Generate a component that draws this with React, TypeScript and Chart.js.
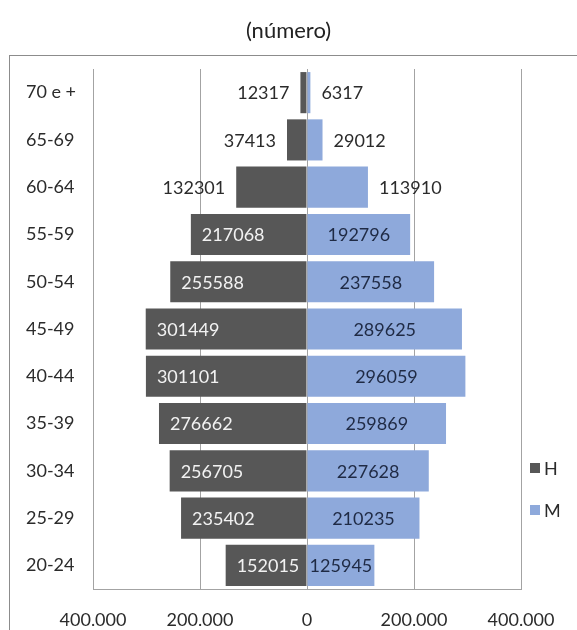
import React, { useEffect, useRef } from 'react';
import { Chart, registerables } from 'chart.js';

Chart.register(...registerables);

const categories = ['70 e +', '65-69', '60-64', '55-59', '50-54', '45-49', '40-44', '35-39', '30-34', '25-29', '20-24'];
const homens = [12317, 37413, 132301, 217068, 255588, 301449, 301101, 276662, 256705, 235402, 152015];
const mulheres = [6317, 29012, 113910, 192796, 237558, 289625, 296059, 259869, 227628, 210235, 125945];
const seriesNames = ['H', 'M'];
const seriesColors = ['#575757', '#8EA9DB'];
const xMin = -400000;
const xMax = 400000;
const xStep = 200000;
const titleText = '(número)';

const FONT = 'Lato, "Open Sans", sans-serif';

const fmt = (v: number) => String(Math.abs(Math.round(v))).replace(/\B(?=(\d{3})+(?!\d))/g, '.');

const decorPlugin = {
  id: 'decor',
  beforeDraw(chart: any) {
    const ctx = chart.ctx;
    ctx.save();
    ctx.strokeStyle = '#8c8c8c';
    ctx.lineWidth = 1;
    ctx.strokeRect(9.5, 55.5, 800, 800);
    ctx.fillStyle = '#222222';
    ctx.font = `22px ${FONT}`;
    ctx.textAlign = 'center';
    ctx.textBaseline = 'middle';
    ctx.fillText(titleText, chart.width / 2, 31);
    ctx.restore();
  },
  afterDatasetsDraw(chart: any) {
    const ctx = chart.ctx;
    ctx.save();
    ctx.font = `18px ${FONT}`;
    ctx.textBaseline = 'middle';
    chart.data.datasets.forEach((ds: any, di: number) => {
      const meta = chart.getDatasetMeta(di);
      const src = di === 0 ? homens : mulheres;
      meta.data.forEach((bar: any, i: number) => {
        const txt = String(src[i]);
        const w = ctx.measureText(txt).width;
        const { x, y, base } = bar.getProps(['x', 'y', 'base'], true);
        const len = Math.abs(x - base);
        if (di === 0) {
          if (len >= w + 14) {
            ctx.fillStyle = '#f2f2f2';
            ctx.textAlign = 'left';
            ctx.fillText(txt, x + 11, y + 1);
          } else {
            ctx.fillStyle = '#2b2b2b';
            ctx.textAlign = 'right';
            ctx.fillText(txt, x - 11, y + 1);
          }
        } else {
          if (len >= w + 4) {
            ctx.fillStyle = '#1f2a44';
            ctx.textAlign = 'center';
            ctx.fillText(txt, (x + base) / 2, y + 1);
          } else {
            ctx.fillStyle = '#2b2b2b';
            ctx.textAlign = 'left';
            ctx.fillText(txt, x + 11, y + 1);
          }
        }
      });
    });
    ctx.restore();
  },
  afterDraw(chart: any) {
    const ctx = chart.ctx;
    const area = chart.chartArea;
    ctx.save();
    ctx.font = `18px ${FONT}`;
    ctx.textBaseline = 'middle';
    ctx.textAlign = 'left';
    const lx = area.right + 9;
    const ys = [468, 510];
    chart.data.datasets.forEach((ds: any, di: number) => {
      ctx.fillStyle = ds.backgroundColor;
      ctx.fillRect(lx, ys[di] - 5, 10, 10);
      ctx.fillStyle = '#2b2b2b';
      ctx.fillText(ds.label, lx + 14, ys[di] + 1);
    });
    ctx.restore();
  },
};

export default function App() {
  const ref = useRef<HTMLCanvasElement | null>(null);
  useEffect(() => {
    if (!ref.current) return;
    const chart = new Chart(ref.current, {
      type: 'bar',
      data: {
        labels: categories,
        datasets: [
          {
            label: seriesNames[0],
            data: homens.map((v) => -v),
            backgroundColor: seriesColors[0],
            borderWidth: 0,
            barPercentage: 0.87,
            categoryPercentage: 1,
          },
          {
            label: seriesNames[1],
            data: mulheres,
            backgroundColor: seriesColors[1],
            borderWidth: 0,
            barPercentage: 0.87,
            categoryPercentage: 1,
          },
        ],
      },
      options: {
        indexAxis: 'y',
        responsive: false,
        animation: false,
        devicePixelRatio: 1,
        layout: { padding: { left: 26, right: 56, top: 69, bottom: 0 } },
        plugins: {
          legend: { display: false },
          tooltip: { enabled: false },
          title: { display: false },
        },
        scales: {
          x: {
            stacked: true,
            min: xMin,
            max: xMax,
            ticks: {
              stepSize: xStep,
              color: '#2b2b2b',
              font: { family: FONT, size: 18 },
              padding: 20,
              callback: (v: any) => fmt(Number(v)),
            },
            grid: { color: '#a3a3a3', drawTicks: false, lineWidth: 1 },
            border: { display: true, color: '#a3a3a3' },
            afterFit: (s: any) => {
              s.height = 41;
            },
          },
          y: {
            stacked: true,
            ticks: {
              color: '#2b2b2b',
              font: { family: FONT, size: 18 },
              crossAlign: 'far',
              padding: 0,
            },
            grid: { display: false },
            border: { display: false },
            afterFit: (s: any) => {
              s.width = 67;
            },
          },
        },
      },
      plugins: [decorPlugin],
    } as any);
    return () => chart.destroy();
  }, []);
  return (
    <div style={{ position: 'absolute', left: 0, top: 0, width: 577, height: 630 }}>
      <canvas ref={ref} width={577} height={630} style={{ display: 'block' }} />
    </div>
  );
}
